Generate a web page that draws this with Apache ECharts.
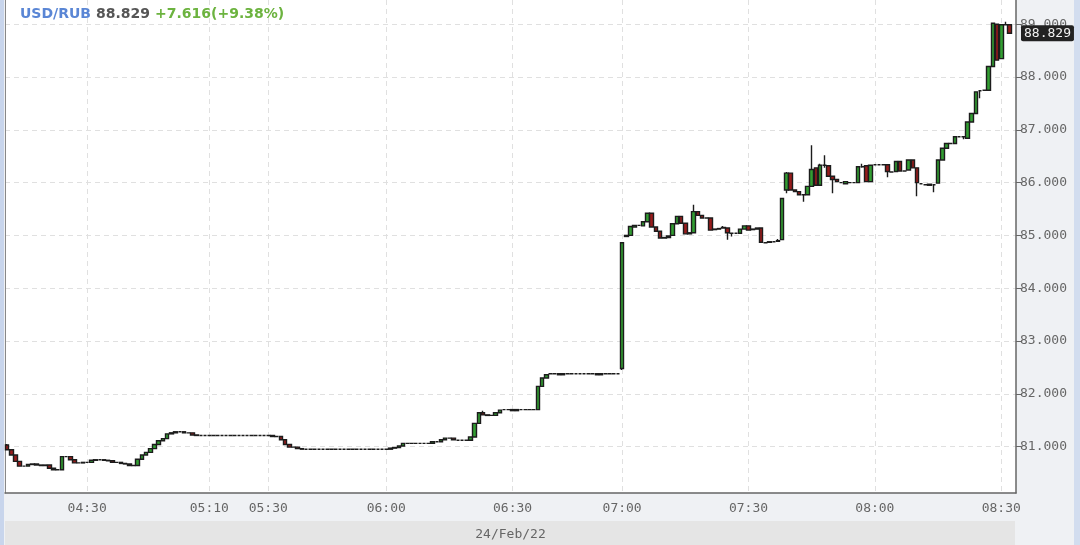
<!DOCTYPE html>
<html>
<head>
<meta charset="utf-8">
<script src="https://cdn.jsdelivr.net/npm/echarts@6/dist/echarts.min.js"></script>
<style>
  html, body { margin: 0; padding: 0; background: #eff1f4; }
  #main { width: 1080px; height: 545px; }
</style>
</head>
<body>
<div id="main"></div>
<script>
// minute runs of the trading session: [first minute, number of 1-min bars]
const timeRuns = [['04:11', 19], ['04:30', 29], ['05:10', 14], ['05:30', 28], ['06:00', 30], ['06:30', 26], ['07:00', 94]]
const tickLabels = ['04:30', '05:10', '05:30', '06:00', '06:30', '07:00', '07:30', '08:00', '08:30']
const priceTicks = [81, 82, 83, 84, 85, 86, 87, 88, 89]
const lastPrice = 88.829

// [open, close] or [open, close, low, high]
const bars = [
  [81.03, 80.94, 80.93, 81.05], [80.94, 80.84], [80.84, 80.72], [80.72, 80.63], [80.63, 80.63],
  [80.63, 80.66], [80.66, 80.67], [80.67, 80.65], [80.65, 80.64], [80.64, 80.65],
  [80.65, 80.59], [80.59, 80.56], [80.56, 80.56], [80.56, 80.81], [80.81, 80.81],
  [80.81, 80.75], [80.75, 80.69], [80.69, 80.69], [80.69, 80.70], [80.70, 80.70],
  [80.70, 80.74], [80.74, 80.75], [80.75, 80.75], [80.75, 80.74], [80.74, 80.73],
  [80.73, 80.70], [80.70, 80.70], [80.70, 80.68], [80.68, 80.67], [80.67, 80.64],
  [80.64, 80.64], [80.64, 80.76], [80.76, 80.84], [80.84, 80.89], [80.89, 80.96],
  [80.96, 81.04], [81.04, 81.11], [81.11, 81.15], [81.15, 81.24], [81.24, 81.26],
  [81.26, 81.28], [81.28, 81.28], [81.28, 81.26], [81.26, 81.26], [81.26, 81.22],
  [81.22, 81.21], [81.21, 81.21], [81.21, 81.21], [81.21, 81.21], [81.21, 81.21],
  [81.21, 81.21], [81.21, 81.21], [81.21, 81.21], [81.21, 81.21], [81.21, 81.21],
  [81.21, 81.21], [81.21, 81.21], [81.21, 81.21], [81.21, 81.21], [81.21, 81.21],
  [81.21, 81.21], [81.21, 81.21], [81.21, 81.21], [81.21, 81.19], [81.19, 81.19],
  [81.19, 81.13], [81.13, 81.04], [81.04, 80.99], [80.99, 80.99], [80.99, 80.96],
  [80.96, 80.95], [80.95, 80.95], [80.95, 80.95], [80.95, 80.95], [80.95, 80.95],
  [80.95, 80.95], [80.95, 80.95], [80.95, 80.95], [80.95, 80.95], [80.95, 80.95],
  [80.95, 80.95], [80.95, 80.95], [80.95, 80.95], [80.95, 80.95], [80.95, 80.95],
  [80.95, 80.95], [80.95, 80.95], [80.95, 80.95], [80.95, 80.95], [80.95, 80.95],
  [80.95, 80.95], [80.95, 80.97], [80.97, 80.98], [80.98, 81.01], [81.01, 81.06],
  [81.06, 81.06], [81.06, 81.06], [81.06, 81.06], [81.06, 81.06], [81.06, 81.06],
  [81.06, 81.06], [81.06, 81.09], [81.09, 81.09], [81.09, 81.13], [81.13, 81.16],
  [81.16, 81.16], [81.16, 81.13], [81.12, 81.12], [81.12, 81.12], [81.12, 81.12],
  [81.12, 81.18], [81.18, 81.44], [81.44, 81.64], [81.64, 81.60, 81.59, 81.68], [81.60, 81.59],
  [81.59, 81.59], [81.59, 81.64], [81.64, 81.69], [81.70, 81.70], [81.70, 81.70],
  [81.70, 81.68], [81.68, 81.70], [81.70, 81.70], [81.70, 81.70], [81.70, 81.70],
  [81.70, 81.70], [81.70, 82.14], [82.14, 82.30], [82.30, 82.36], [82.38, 82.38],
  [82.38, 82.38], [82.38, 82.36], [82.36, 82.38], [82.38, 82.38], [82.38, 82.38],
  [82.38, 82.38], [82.38, 82.38], [82.38, 82.38], [82.38, 82.38], [82.38, 82.38],
  [82.38, 82.36], [82.36, 82.38], [82.38, 82.38], [82.38, 82.38], [82.38, 82.38],
  [82.38, 82.38], [82.48, 84.86, 82.45, 84.86], [84.98, 85.00], [85.00, 85.17], [85.16, 85.19],
  [85.19, 85.19], [85.18, 85.26], [85.26, 85.42], [85.42, 85.16], [85.16, 85.08],
  [85.08, 84.95], [84.95, 84.96], [84.96, 84.99], [85.00, 85.22], [85.22, 85.36],
  [85.36, 85.23], [85.23, 85.03], [85.03, 85.05], [85.05, 85.45, 85.04, 85.58], [85.45, 85.38],
  [85.38, 85.33], [85.33, 85.33], [85.33, 85.10], [85.11, 85.12], [85.12, 85.13],
  [85.14, 85.15, 85.13, 85.18], [85.14, 85.05, 84.92, 85.14], [85.04, 85.04, 84.98, 85.05], [85.04, 85.04], [85.04, 85.12],
  [85.12, 85.18], [85.18, 85.10], [85.11, 85.12], [85.12, 85.14], [85.14, 84.87],
  [84.86, 84.86], [84.87, 84.88], [84.88, 84.88], [84.89, 84.90, 84.88, 84.93], [84.92, 85.70],
  [85.86, 86.18, 85.80, 86.20], [86.18, 85.86], [85.86, 85.83], [85.83, 85.77], [85.77, 85.77, 85.64, 85.78],
  [85.77, 85.93], [85.93, 86.25, 85.92, 86.71], [86.28, 85.95], [85.95, 86.33, 85.95, 86.36], [86.33, 86.33, 86.28, 86.52],
  [86.32, 86.12], [86.12, 86.06, 85.80, 86.12], [86.06, 86.02], [86.00, 86.00], [85.98, 86.02],
  [86.00, 86.00], [86.00, 86.00], [86.00, 86.30], [86.30, 86.30, 86.28, 86.36], [86.32, 86.02],
  [86.02, 86.33], [86.34, 86.34], [86.34, 86.34], [86.34, 86.34], [86.34, 86.21, 86.10, 86.34],
  [86.20, 86.20], [86.21, 86.40], [86.40, 86.22], [86.22, 86.22], [86.24, 86.43],
  [86.43, 86.28], [86.28, 86.00, 85.74, 86.28], [85.98, 85.98], [85.96, 85.96], [85.97, 85.95],
  [85.96, 85.96, 85.82, 85.97], [85.99, 86.43], [86.43, 86.65], [86.65, 86.74], [86.74, 86.74],
  [86.74, 86.87], [86.87, 86.87], [86.87, 86.87, 86.82, 86.88], [86.84, 87.15], [87.15, 87.31],
  [87.31, 87.72], [87.74, 87.74, 87.60, 87.75], [87.75, 87.75], [87.75, 88.20], [88.20, 89.02],
  [89.00, 88.32], [88.35, 88.99], [88.99, 88.99, 88.98, 89.05], [88.99, 88.829]
]

const pad = (n) => String(n).padStart(2, '0')
const times = []
timeRuns.forEach(([start, count]) => {
  const [h, m] = start.split(':').map(Number)
  for (let k = 0; k < count; k++) {
    const t = h * 60 + m + k
    times.push(pad(Math.floor(t / 60)) + ':' + pad(t % 60))
  }
})

// echarts candlestick wants [open, close, lowest, highest]
const candles = times.map((_, i) => {
  const b = bars[i]
  if (!b) return '-'
  return [b[0], b[1], b.length > 2 ? b[2] : Math.min(b[0], b[1]), b.length > 2 ? b[3] : Math.max(b[0], b[1])]
})

const showTick = (idx) => tickLabels.includes(times[idx])
const mono = "'DejaVu Sans Mono', monospace"
const dashed = { color: '#e0e0e0', type: [5, 4], width: 1 }

const chart = echarts.init(document.getElementById('main'))
const option = {
  backgroundColor: '#eff1f4',
  animation: false,
  title: {
    left: 15,
    top: 0,
    text: '{a|USD/RUB} {b|' + lastPrice.toFixed(3) + '} {c|+7.616(+9.38%)}',
    textStyle: {
      rich: {
        a: { color: '#5a86d5', fontSize: 14, fontWeight: 'bold', fontFamily: 'DejaVu Sans' },
        b: { color: '#555555', fontSize: 14, fontWeight: 'bold', fontFamily: 'DejaVu Sans' },
        c: { color: '#6cb33f', fontSize: 14, fontWeight: 'bold', fontFamily: 'DejaVu Sans' }
      }
    }
  },
  graphic: [
    { type: 'rect', z: -10, shape: { x: 0, y: 0, width: 4, height: 545 }, style: { fill: '#c8d5ec' } },
    { type: 'rect', z: -10, shape: { x: 1074, y: 0, width: 6, height: 545 }, style: { fill: '#d2ddef' } },
    { type: 'rect', z: -10, shape: { x: 5, y: 521, width: 1010, height: 24 }, style: { fill: '#e5e5e5' } }
  ],
  grid: {
    left: 5,
    right: 64,
    top: 0,
    bottom: 52,
    outerBoundsMode: 'none',
    show: true,
    backgroundColor: '#ffffff',
    borderWidth: 0
  },
  xAxis: {
    type: 'category',
    data: times,
    boundaryGap: true,
    name: '24/Feb/22',
    nameLocation: 'middle',
    nameGap: 35,
    nameTextStyle: { color: '#666', fontSize: 13, fontFamily: mono },
    axisLine: { lineStyle: { color: '#666', width: 1.5 } },
    axisTick: { alignWithLabel: true, interval: showTick, length: 5, lineStyle: { color: '#666' } },
    axisLabel: { interval: showTick, color: '#666', fontSize: 13, fontFamily: mono, margin: 9 },
    splitLine: { show: true, alignWithLabel: true, interval: showTick, lineStyle: dashed }
  },
  yAxis: [
    {
      type: 'value',
      position: 'right',
      min: 80.12,
      max: 89.46,
      axisLine: { show: true, lineStyle: { color: '#666', width: 1.5 } },
      axisTick: { show: true, customValues: priceTicks, length: 5, lineStyle: { color: '#666' } },
      axisLabel: {
        customValues: priceTicks,
        formatter: (v) => v.toFixed(3),
        color: '#666',
        fontSize: 13,
        fontFamily: mono,
        margin: 4
      },
      splitLine: { show: true, lineStyle: dashed }
    },
    {
      type: 'value',
      position: 'left',
      min: 80.12,
      max: 89.46,
      axisLine: { show: true, lineStyle: { color: '#888', width: 1 } },
      axisTick: { show: false },
      axisLabel: { show: false },
      splitLine: { show: false }
    }
  ],
  series: [
    {
      type: 'candlestick',
      data: candles,
      barWidth: '96%',
      itemStyle: {
        color: '#329e32',
        color0: '#981c1c',
        borderColor: '#1c1c1c',
        borderColor0: '#1c1c1c',
        borderWidth: 1.4
      },
      markLine: {
        silent: true,
        symbol: 'none',
        lineStyle: { color: 'rgba(0,0,0,0)', width: 0 },
        label: {
          show: true,
          position: 'end',
          distance: 5,
          formatter: lastPrice.toFixed(3),
          color: '#f2f2f2',
          backgroundColor: '#222222',
          borderRadius: 2,
          padding: [2, 3, 1, 3],
          fontSize: 13,
          fontFamily: mono
        },
        data: [{ yAxis: lastPrice }]
      }
    }
  ]
}
chart.setOption(option)
</script>
</body>
</html>
